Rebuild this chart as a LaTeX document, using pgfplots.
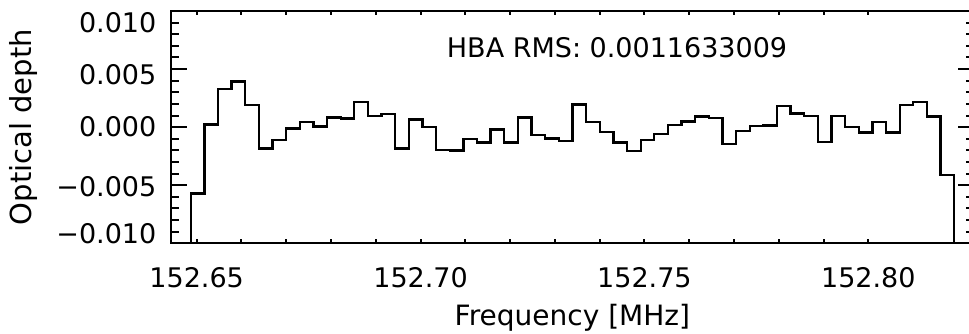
\documentclass[border=0pt]{standalone}
\usepackage{pgfplots}
\pgfplotsset{compat=1.18}
\usepackage{fontspec}
\setmainfont{DejaVu Sans}
\newcommand{\tkfont}{\fontsize{13.5bp}{16bp}\selectfont}
\newcommand{\lbfont}{\fontsize{14.5bp}{17bp}\selectfont}
\newcommand{\xlbfont}{\fontsize{14bp}{17bp}\selectfont}
\begin{document}
\begin{tikzpicture}
\begin{axis}[name=ax, scale only axis, width=401.65bp, height=116.15bp,
  xmin=152.644194, xmax=152.8236, ymin=-0.01, ymax=0.01,
  axis line style={line width=1bp, black},
  xtick=\empty,
  scaled y ticks=false, scaled x ticks=false,
  ytick={-0.01,-0.005,0,0.005,0.01},
  yticklabels={{\raisebox{4.65bp}{\textrm{−0.010}}},{\raisebox{-0.5bp}{\textrm{−0.005}}},{\textrm{0.000}},{\raisebox{-2.85bp}{\textrm{0.005}}},{\raisebox{-5.9bp}{\textrm{0.010}}}},
  minor y tick num=4,
  major tick length=8bp, minor tick length=4bp,
  tick style={line width=1bp, black},
  yticklabel style={anchor=base east, inner sep=0pt, xshift=-7bp, yshift=-4.92bp, font=\tkfont},
  clip=true,
]
\addplot[const plot, black, line width=1.15bp] coordinates {
(152.64561,-0.02)
(152.64866,-0.00571)
(152.65171,0.00022)
(152.65475,0.00329)
(152.65780,0.00394)
(152.66084,0.00192)
(152.66389,-0.00185)
(152.66693,-0.00108)
(152.66998,-0.00011)
(152.67302,0.00046)
(152.67607,0.00006)
(152.67911,0.00083)
(152.68216,0.00075)
(152.68520,0.00218)
(152.68825,0.00097)
(152.69129,0.00111)
(152.69434,-0.00185)
(152.69738,0.00066)
(152.70043,0.00003)
(152.70347,-0.00194)
(152.70652,-0.00200)
(152.70956,-0.00105)
(152.71261,-0.00131)
(152.71565,-0.00020)
(152.71870,-0.00131)
(152.72174,0.00083)
(152.72479,-0.00069)
(152.72783,-0.00097)
(152.73088,-0.00120)
(152.73392,0.00195)
(152.73697,0.00043)
(152.74001,-0.00043)
(152.74306,-0.00131)
(152.74610,-0.00208)
(152.74915,-0.00108)
(152.75219,-0.00057)
(152.75524,0.00020)
(152.75828,0.00049)
(152.76133,0.00092)
(152.76437,0.00077)
(152.76742,-0.00148)
(152.77046,-0.00031)
(152.77351,0.00009)
(152.77655,0.00015)
(152.77960,0.00183)
(152.78264,0.00117)
(152.78569,0.00097)
(152.78873,-0.00129)
(152.79178,0.00094)
(152.79482,0.00003)
(152.79787,-0.00045)
(152.80091,0.00043)
(152.80396,-0.00045)
(152.80700,0.00189)
(152.81005,0.00218)
(152.81309,0.00092)
(152.81614,-0.00411)
(152.81918,-0.02)
(152.82223,-0.02)
};
\node[anchor=west, inner sep=0pt, font=\tkfont] at (axis cs:152.7058,0.00686) {HBA RMS: 0.0011633009};
\end{axis}
\begin{axis}[at={(ax.south west)}, anchor=south west, scale only axis, width=401.65bp, height=116.15bp,
  xmin=152.644194, xmax=152.8236, ymin=-0.01, ymax=0.01,
  axis line style={draw=none},
  scaled y ticks=false, scaled x ticks=false,
  xtick={152.65,152.70,152.75,152.80},
  xticklabels={\textrm{152.65},\textrm{152.70},\textrm{152.75},\textrm{152.80}},
  minor x tick num=4,
  ytick=\empty,
  major tick length=2.2bp, minor tick length=2.2bp,
  tick style={line width=1bp, black},
  xticklabel style={anchor=base, inner sep=0pt, yshift=-22bp, font=\tkfont},
]
\end{axis}
\node[rotate=90, anchor=center, inner sep=0pt, font=\lbfont] at ([xshift=-73.5bp]ax.west) {Optical depth};
\node[anchor=base, inner sep=0pt, font=\xlbfont] at ([yshift=-40.85bp]ax.south) {Frequency [MHz]};
\pgfresetboundingbox
\path[use as bounding box] ([shift={(-85.35bp,-45.35bp)}]ax.south west) rectangle ([shift={(-2.5bp,5.5bp)}]ax.north east);
\end{tikzpicture}
\end{document}
